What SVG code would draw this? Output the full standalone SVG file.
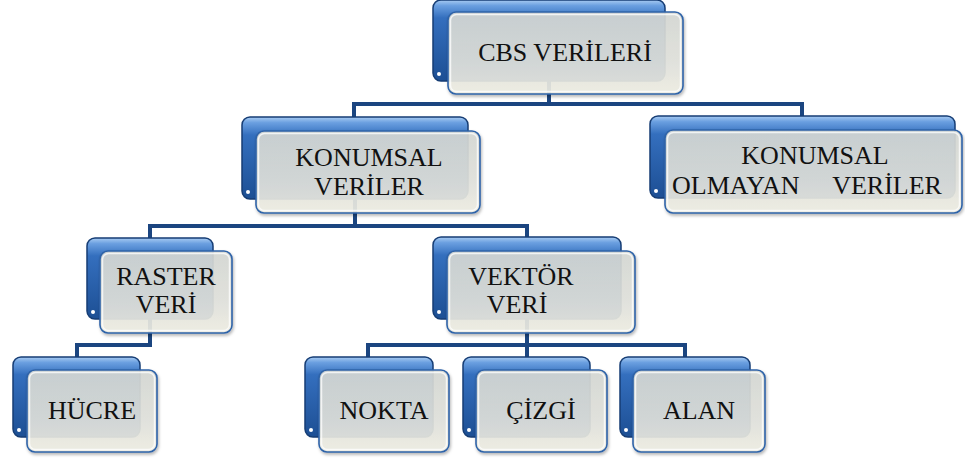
<svg xmlns="http://www.w3.org/2000/svg" width="965" height="461" viewBox="0 0 965 461">
<defs>
<linearGradient id="gBack" x1="0" y1="0" x2="0" y2="1">
<stop offset="0" stop-color="#a8cbf2"/>
<stop offset="0.07" stop-color="#6a9fe0"/>
<stop offset="0.22" stop-color="#346fbe"/>
<stop offset="1" stop-color="#1d4f94"/>
</linearGradient>
<linearGradient id="gFront" x1="0" y1="0" x2="0" y2="1">
<stop offset="0" stop-color="#d5d8d4"/>
<stop offset="0.6" stop-color="#e1e2dc"/>
<stop offset="1" stop-color="#efeee4"/>
</linearGradient>
<filter id="sh" x="-10%" y="-10%" width="125%" height="130%">
<feDropShadow dx="1" dy="2" stdDeviation="1.5" flood-color="#000" flood-opacity="0.3"/>
</filter>
</defs>
<style>
.back{fill:url(#gBack);stroke:#163d74;stroke-width:1.5}
.front{fill:url(#gFront);fill-opacity:0.9;stroke:#2f63a8;stroke-width:1.6;filter:url(#sh)}
.hl{fill:none;stroke:#ffffff;stroke-opacity:0.75;stroke-width:1.5}
.dot{fill:#ffffff}
.conn{fill:none;stroke:#1b4580;stroke-width:4;stroke-linejoin:miter}
.t{font-family:'Liberation Serif','Times New Roman',serif;font-size:26px;fill:#111111;text-anchor:middle}
</style>
<g id="connectors">
<path class="conn" d="M549 80 V104 M354 117 V104 H802 V117"/>
<path class="conn" d="M355 199 V226 M150 238 V226 H527 V238"/>
<path class="conn" d="M150 319 V345 H77 V357"/>
<path class="conn" d="M527 318 V357 M368 357 V345 H685 V357"/>
</g>
<g id="n-cbs">
<rect class="back" x="433" y="0" width="232" height="81" rx="8"/>
<circle class="dot" cx="439" cy="74" r="2"/>
<rect class="front" x="448" y="12" width="235" height="82" rx="8"/>
<rect class="hl" x="450.5" y="14.5" width="230" height="77" rx="6"/>
<text class="t" x="565" y="61">CBS VERİLERİ</text>
</g>
<g id="n-konumsal">
<rect class="back" x="242" y="117" width="226" height="82" rx="8"/>
<circle class="dot" cx="248" cy="192" r="2"/>
<rect class="front" x="256" y="131" width="224" height="82" rx="8"/>
<rect class="hl" x="258.5" y="133.5" width="219" height="77" rx="6"/>
<text class="t" x="369" y="166">KONUMSAL</text>
<text class="t" x="369" y="195">VERİLER</text>
</g>
<g id="n-konumsal-olmayan">
<rect class="back" x="650" y="116" width="305" height="82" rx="8"/>
<circle class="dot" cx="656" cy="191" r="2"/>
<rect class="front" x="665" y="130" width="297" height="83" rx="8"/>
<rect class="hl" x="667.5" y="132.5" width="292" height="78" rx="6"/>
<text class="t" x="815" y="164">KONUMSAL</text>
<text class="t" x="807" y="194" xml:space="preserve" style="word-spacing:4.5px">OLMAYAN   VERİLER</text>
</g>
<g id="n-raster">
<rect class="back" x="87" y="238" width="126" height="81" rx="8"/>
<circle class="dot" cx="93" cy="312" r="2"/>
<rect class="front" x="100" y="251" width="132" height="82" rx="8"/>
<rect class="hl" x="102.5" y="253.5" width="127" height="77" rx="6"/>
<text class="t" x="166" y="285">RASTER</text>
<text class="t" x="166" y="313">VERİ</text>
</g>
<g id="n-vektor">
<rect class="back" x="433" y="237" width="188" height="82" rx="8"/>
<circle class="dot" cx="439" cy="312" r="2"/>
<rect class="front" x="447" y="251" width="188" height="82" rx="8"/>
<rect class="hl" x="449.5" y="253.5" width="183" height="77" rx="6"/>
<text class="t" x="521" y="285">VEKTÖR</text>
<text class="t" x="517" y="313">VERİ</text>
</g>
<g id="n-hucre">
<rect class="back" x="13" y="357" width="127" height="80" rx="8"/>
<circle class="dot" cx="19" cy="430" r="2"/>
<rect class="front" x="27" y="370" width="130" height="82" rx="8"/>
<rect class="hl" x="29.5" y="372.5" width="125" height="77" rx="6"/>
<text class="t" x="92" y="419">HÜCRE</text>
</g>
<g id="n-nokta">
<rect class="back" x="305" y="357" width="128" height="80" rx="8"/>
<circle class="dot" cx="311" cy="430" r="2"/>
<rect class="front" x="319" y="370" width="130" height="82" rx="8"/>
<rect class="hl" x="321.5" y="372.5" width="125" height="77" rx="6"/>
<text class="t" x="384" y="419">NOKTA</text>
</g>
<g id="n-cizgi">
<rect class="back" x="463" y="357" width="127" height="80" rx="8"/>
<circle class="dot" cx="469" cy="430" r="2"/>
<rect class="front" x="476" y="370" width="131" height="82" rx="8"/>
<rect class="hl" x="478.5" y="372.5" width="126" height="77" rx="6"/>
<text class="t" x="541" y="419">ÇİZGİ</text>
</g>
<g id="n-alan">
<rect class="back" x="620" y="357" width="130" height="80" rx="8"/>
<circle class="dot" cx="626" cy="430" r="2"/>
<rect class="front" x="633" y="370" width="132" height="82" rx="8"/>
<rect class="hl" x="635.5" y="372.5" width="127" height="77" rx="6"/>
<text class="t" x="699" y="419">ALAN</text>
</g>
</svg>
